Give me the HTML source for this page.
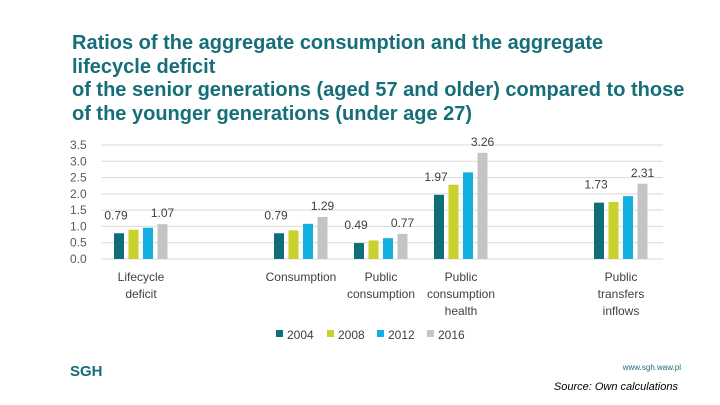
<!DOCTYPE html>
<html><head><meta charset="utf-8"><style>
body{margin:0;width:720px;height:405px;background:#fff;overflow:hidden;font-family:"Liberation Sans",sans-serif;}
#title{position:absolute;left:72px;top:32px;font-size:20px;font-weight:bold;color:#166f78;line-height:23.5px;white-space:nowrap;}
svg{position:absolute;left:0;top:0;}
</style></head><body>
<div id="title">Ratios of the aggregate consumption and the aggregate<br>lifecycle deficit<br>of the senior generations (aged 57 and older) compared to those<br>of the younger generations (under age 27)</div>
<svg id="chart" width="720" height="405"></svg>
<script>
const categories=["Lifecycle\ndeficit","","Consumption","Public\nconsumption","Public\nconsumption\nhealth","","Public\ntransfers\ninflows"];
const years=["2004","2008","2012","2016"];
const s2004=[0.79,null,0.79,0.49,1.97,null,1.73];
const s2008=[0.90,null,0.88,0.57,2.28,null,1.75];
const s2012=[0.96,null,1.08,0.64,2.66,null,1.93];
const s2016=[1.07,null,1.29,0.77,3.26,null,2.31];
const ticks=[0,0.5,1,1.5,2,2.5,3,3.5];
const colors=["#0e6e7a","#c8d12e","#12b0e0","#c4c4c4"];
const series=[s2004,s2008,s2012,s2016];
const NS="http://www.w3.org/2000/svg";
const svg=document.getElementById('chart');
const x0=101,slot=80,yBase=259,yTop=145,ymax=3.5;
const y=v=>yBase-(v/ymax)*(yBase-yTop);
const xc=i=>x0+slot*(i+0.5);
function mk(t,a){const e=document.createElementNS(NS,t);for(const k in a)e.setAttribute(k,a[k]);svg.appendChild(e);return e;}
ticks.forEach(t=>{
 const g=mk('line',{x1:x0,x2:663,y1:y(t),y2:y(t),stroke:'#d9d9d9','stroke-width':1});
 
 
 const l=mk('text',{x:70,y:y(t)+4,'font-size':12,fill:'#595959'});
 l.textContent=t.toFixed(1);
 
 
});
categories.forEach((c,i)=>{
 series.forEach((s,j)=>{
  const v=s[i];if(v==null)return;
  const bx=xc(i)-27+j*14.5;
  const r=mk('rect',{x:bx,y:y(v),width:10,height:yBase-y(v),fill:colors[j]});
  
  
  if(j==0||j==3){
   const t=mk('text',{x:bx+5+(j==0?-3:0),y:y(v)-(j==0?14:7),'font-size':12,fill:'#404040','text-anchor':'middle'});
   t.textContent=v.toFixed(2);
   
   
  }
 });
 c.split('\n').forEach((ln,k)=>{
  if(!ln)return;
  const t=mk('text',{x:xc(i),y:281+k*17,'font-size':12,fill:'#404040','text-anchor':'middle'});
  t.textContent=ln;
  
  
 });
});
const lx=[276,327,377,427];
years.forEach((yr,j)=>{
 const r=mk('rect',{x:lx[j],y:330,width:7,height:7,fill:colors[j]});
 
 
 const t=mk('text',{x:lx[j]+11,y:339,'font-size':12,fill:'#404040'});
 t.textContent=yr;
 
 
});
let t=mk('text',{x:70,y:376,'font-size':15,'font-weight':'bold',fill:'#166f78'});t.textContent='SGH';


t=mk('text',{x:681,y:370,'font-size':8,fill:'#166f78','text-anchor':'end'});t.textContent='www.sgh.waw.pl';


t=mk('text',{x:678,y:390,'font-size':11,'font-style':'italic',fill:'#000','text-anchor':'end'});t.textContent='Source: Own calculations';


</script>
</body></html>
